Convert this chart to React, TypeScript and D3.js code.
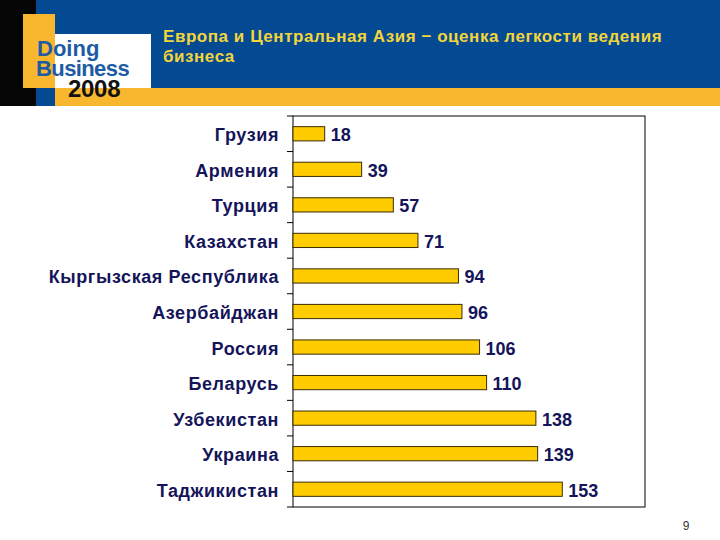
import React from "react";
import * as d3 from "d3";

const categories = [
  "Грузия",
  "Армения",
  "Турция",
  "Казахстан",
  "Кыргызская Республика",
  "Азербайджан",
  "Россия",
  "Беларусь",
  "Узбекистан",
  "Украина",
  "Таджикистан",
];
const values = [18, 39, 57, 71, 94, 96, 106, 110, 138, 139, 153];
const titleLines = ["Европа и Центральная Азия − оценка легкости ведения", "бизнеса"];
const pageNumber = "9";

export default function App() {
  const W = 720;
  const H = 540;
  const left = 293;
  const right = 645;
  const top = 116;
  const bottom = 507;

  const x = d3.scaleLinear().domain([0, 200]).range([left, right]);
  const y = d3
    .scaleBand<string>()
    .domain(categories)
    .range([top, bottom])
    .paddingInner(0.6)
    .paddingOuter(0.3);
  const bandEdges = d3.range(categories.length + 1).map((i) => top + (bottom - top) * (i / categories.length));

  const font = "'Liberation Sans', Arial, sans-serif";
  const navy = "#14145a";

  return (
    <svg
      width={W}
      height={H}
      style={{ position: "absolute", left: 0, top: 0, background: "#fff" }}
      fontFamily={font}
    >
      <rect x={0} y={0} width={W} height={H} fill="#ffffff" />
      {/* header */}
      <rect x={36} y={0} width={W - 36} height={88} fill="#034a93" />
      <rect x={36} y={88} width={20} height={18} fill="#034a93" />
      <rect x={0} y={0} width={36} height={106} fill="#050505" />
      <rect x={23} y={14} width={32} height={74} fill="#f8b72e" />
      <rect x={55} y={34} width={96} height={54} fill="#ffffff" />
      <rect x={55} y={88} width={W - 55} height={18} fill="#f8b72e" />
      <text x={37} y={56} fontSize={22} fontWeight="bold" fill="#1d5ba3" letterSpacing={0}>
        Doing
      </text>
      <text x={36} y={76} fontSize={22} fontWeight="bold" fill="#1d5ba3" letterSpacing={-0.6}>
        Business
      </text>
      <text x={68} y={97} fontSize={24} fontWeight="bold" fill="#111" letterSpacing={-0.3}>
        2008
      </text>
      {titleLines.map((t, i) => (
        <text key={i} x={163} y={42 + i * 20} fontSize={17} fontWeight="bold" fill="#f3d53b" letterSpacing={0.55}>
          {t}
        </text>
      ))}

      {/* plot frame */}
      <rect x={left} y={top} width={right - left} height={bottom - top} fill="#fff" stroke="#000" strokeWidth={1} />
      {bandEdges.map((e, i) => (
        <line key={i} x1={left - 6} x2={left} y1={e} y2={e} stroke="#000" strokeWidth={1} />
      ))}

      {categories.map((c, i) => {
        const by = y(c)!;
        const cy = by + y.bandwidth() / 2 + 1;
        return (
          <g key={c}>
            <rect
              x={x(0)}
              y={by}
              width={x(values[i]) - x(0)}
              height={y.bandwidth()}
              fill="#ffcc00"
              stroke="#3b2c05"
              strokeWidth={1}
            />
            <text
              x={x(values[i]) + 6}
              y={cy}
              dy="0.36em"
              fontSize={18}
              fontWeight="bold"
              fill={navy}
            >
              {values[i]}
            </text>
            <text
              x={279}
              y={cy}
              dy="0.36em"
              textAnchor="end"
              fontSize={18}
              fontWeight="bold"
              fill={navy}
              letterSpacing={0.6}
            >
              {c}
            </text>
          </g>
        );
      })}

      <text x={686} y={530} textAnchor="middle" fontSize={12} fill="#333">
        {pageNumber}
      </text>
    </svg>
  );
}
